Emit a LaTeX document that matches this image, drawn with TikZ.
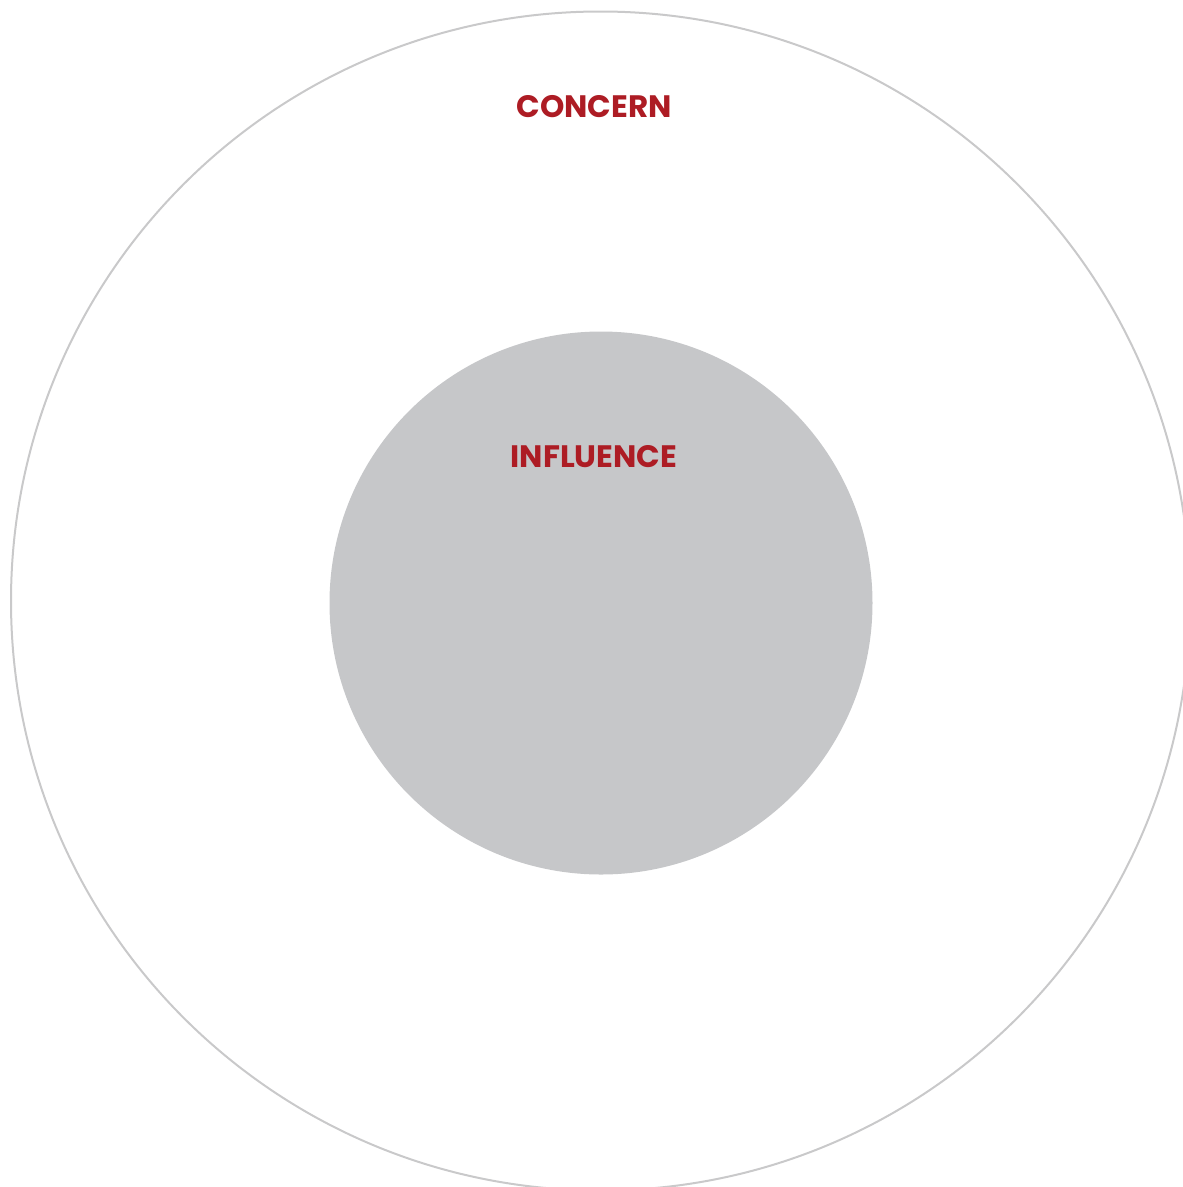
\documentclass[tikz,border=0pt]{standalone}
\usepackage{fontspec}
\setmainfont{Poppins}
\definecolor{ringgray}{HTML}{C9C9CA}
\definecolor{corefill}{HTML}{C6C7C9}
\definecolor{labelred}{HTML}{AD1C24}
\begin{document}
\begin{tikzpicture}[x=1pt,y=-1pt,
  label/.style={text=labelred, font=\fontsize{31}{34}\selectfont\bfseries, inner sep=0pt, anchor=center}]
  \useasboundingbox (0,0) rectangle (1183,1187);
  \begin{scope}
    \clip (0,0) rectangle (1183,1187);
    % circle of concern
    \draw[ringgray, line width=2pt] (600.5,601) circle (589.5);
    % circle of influence
    \fill[corefill] (601,603) circle (271.5);
  \end{scope}
  \node[label] (concern) at (594,107) {CONCERN};
  \node[label] (influence) at (594,457) {INFLUENCE};
\end{tikzpicture}
\end{document}
